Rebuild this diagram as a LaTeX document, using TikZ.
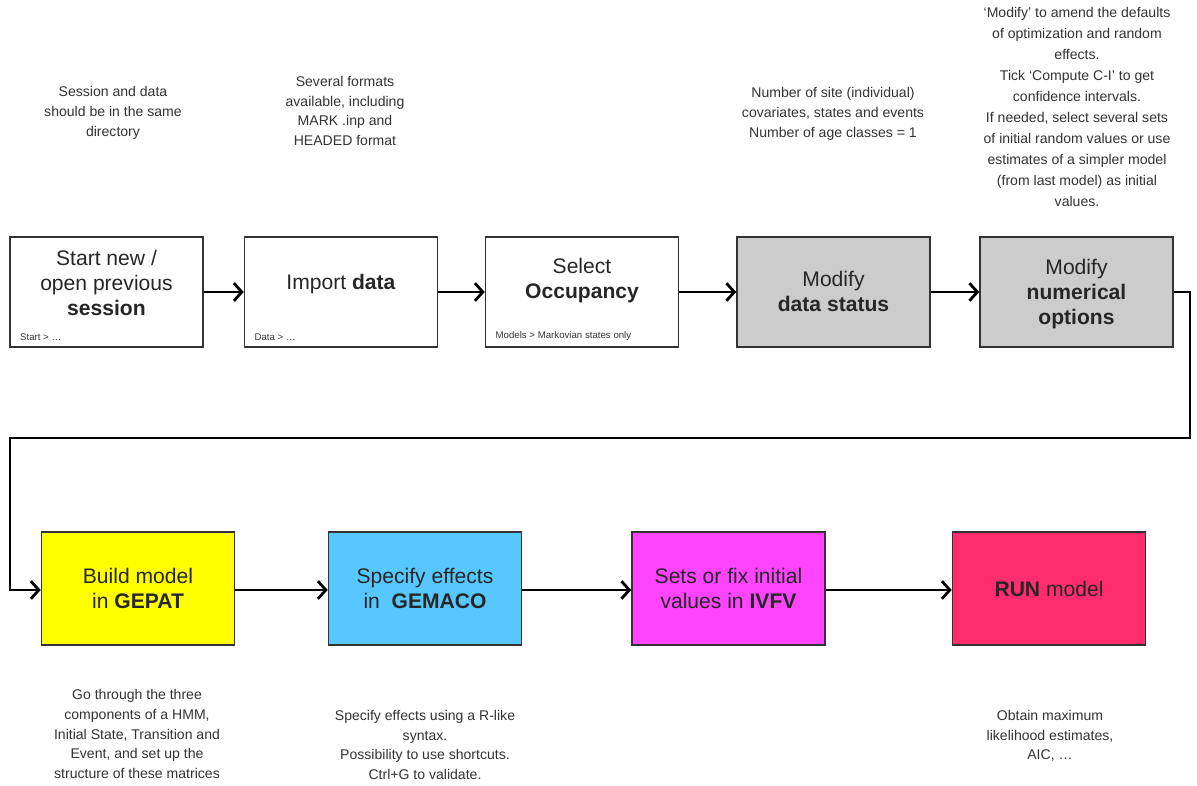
\documentclass[tikz,border=0pt]{standalone}
\usepackage{fontspec}
\setmainfont{Liberation Sans}
\usetikzlibrary{arrows.meta, positioning}

\definecolor{boxgray}{HTML}{CCCCCC}
\definecolor{gepatyellow}{HTML}{FFFF00}
\definecolor{gemacoblue}{HTML}{57C8FF}
\definecolor{ivfvmagenta}{HTML}{FF44FF}
\definecolor{runpink}{HTML}{FF2D6E}

\begin{document}
\begin{tikzpicture}[
  x=0.02cm, y=-0.02cm,
  step box/.style={rectangle, draw=black!80, line width=0.9pt, minimum width=3.86cm, minimum height=2.2cm,
    align=center, text=black!85, font=\fontsize{12}{14.2}\selectfont},
  low box/.style={step box, minimum height=2.26cm},
  menu/.style={font=\fontsize{5.5}{6.5}\selectfont, text=black!80, anchor=south west, inner sep=1pt},
  note/.style={align=center, text=black!80, font=\fontsize{8}{11.2}\selectfont},
  arr/.style={-{Straight Barb[length=4.5pt, width=10pt, line width=1.6pt]}, line width=1.6pt}
  ]
  \useasboundingbox (0,0) rectangle (1197,786);

  % first row
  \node[step box] (session) at (106.5,292) {};
  \node[step box] (import) at (341,292) {};
  \node[step box] (occup) at (582,292) {};
  \node[step box, fill=boxgray] (status) at (833.5,292) {};
  \node[step box, fill=boxgray] (numopt) at (1076.5,292) {};

  \node[step box, draw=none, minimum height=0pt] at (106.5,283) {Start new /\\open previous\\\textbf{session}};
  \node[step box, draw=none, minimum height=0pt] at (341,284) {Import \textbf{data}};
  \node[step box, draw=none, minimum height=0pt] at (582,281) {Select\\\textbf{Occupancy}};
  \node[step box, draw=none, minimum height=0pt] at (833.5,291) {Modify\\\textbf{data status}};
  \node[step box, draw=none, minimum height=0pt] at (1076.5,294) {Modify\\\textbf{numerical}\\\textbf{options}};

  \node[menu] at ([xshift=5pt, yshift=3pt]session.south west) {Start > \dots};
  \node[menu] at ([xshift=5pt, yshift=3pt]import.south west) {Data > \dots};
  \node[menu] at ([xshift=5pt, yshift=3pt]occup.south west) {Models > Markovian states only};

  % second row
  \node[low box, fill=gepatyellow] (gepat) at (138,588.5) {Build model\\in \textbf{GEPAT}};
  \node[low box, fill=gemacoblue] (gemaco) at (425,588.5) {Specify effects\\in~ \textbf{GEMACO}};
  \node[low box, fill=ivfvmagenta] (ivfv) at (728.5,588.5) {Sets or fix initial\\values in \textbf{IVFV}};
  \node[low box, fill=runpink] (run) at (1049,588.5) {\textbf{RUN} model};

  \coordinate (turnA) at (1190,292);
  \coordinate (turnB) at (1190,438);
  \coordinate (turnC) at (10,438);
  \coordinate (turnD) at (10,590);

  \draw[arr] (session) -- (import);
  \draw[arr] (import) -- (occup);
  \draw[arr] (occup) -- (status);
  \draw[arr] (status) -- (numopt);
  \draw[arr] (numopt.east) -- (turnA) -- (turnB) -- (turnC) -- (turnD) -- (gepat.west |- turnD);
  \draw[arr] (gepat.east |- turnD) -- (gemaco.west |- turnD);
  \draw[arr] (gemaco.east |- turnD) -- (ivfv.west |- turnD);
  \draw[arr] (ivfv.east |- turnD) -- (run.west |- turnD);

  % notes
  \node[note] (n1) at (113,113) {Session and data\\should be in the same\\directory};
  \node[note] (n2) at (345,111) {Several formats\\available, including\\MARK .inp and\\HEADED format};
  \node[note] (n4) at (833,114) {Number of site (individual)\\covariates, states and events\\Number of age classes = 1};
  \node[note, font=\fontsize{8}{12}\selectfont] (n5) at (1077,107) {`Modify' to amend the defaults\\of optimization and random\\effects.\\Tick `Compute C-I' to get\\confidence intervals.\\If needed, select several sets\\of initial random values or use\\estimates of a simpler model\\(from last model) as initial\\values.};
  \node[note] (n6) at (137,734) {Go through the three\\components of a HMM,\\Initial State, Transition and\\Event, and set up the\\structure of these matrices};
  \node[note] (n7) at (425,745) {Specify effects using a R-like\\syntax.\\Possibility to use shortcuts.\\Ctrl+G to validate.};
  \node[note] (n9) at (1050,736) {Obtain maximum\\likelihood estimates,\\AIC, \dots};
\end{tikzpicture}
\end{document}
